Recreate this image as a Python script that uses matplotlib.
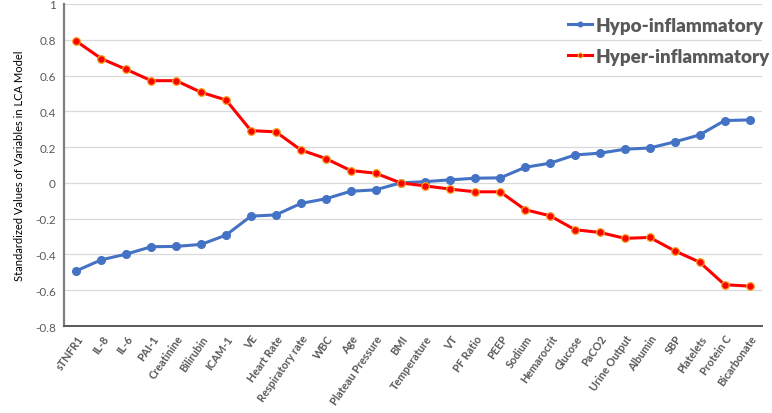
import matplotlib
matplotlib.use("Agg")
import matplotlib.pyplot as plt
import numpy as np

categories = ["sTNFR1", "IL-8", "IL-6", "PAI-1", "Creatinine", "Bilirubin", "ICAM-1", "VE",
              "Heart Rate", "Respiratory rate", "WBC", "Age", "Plateau Pressure", "BMI",
              "Temperature", "VT", "PF Ratio", "PEEP", "Sodium", "Hemarocrit", "Glucose",
              "PaCO2", "Urine Output", "Albumin", "SBP", "Platelets", "Protein C", "Bicarbonate"]
hypo = [-0.491, -0.430, -0.398, -0.357, -0.355, -0.344, -0.292, -0.186,
        -0.179, -0.115, -0.089, -0.047, -0.039, 0.000,
        0.007, 0.017, 0.026, 0.028, 0.087, 0.110, 0.156,
        0.166, 0.188, 0.195, 0.229, 0.268, 0.348, 0.352]
hyper = [0.791, 0.694, 0.634, 0.571, 0.571, 0.506, 0.463, 0.292,
         0.285, 0.184, 0.136, 0.069, 0.054, 0.000,
         -0.017, -0.035, -0.050, -0.050, -0.150, -0.184, -0.262,
         -0.277, -0.310, -0.305, -0.380, -0.443, -0.569, -0.577]
yticks = [-0.8, -0.6, -0.4, -0.2, 0, 0.2, 0.4, 0.6, 0.8, 1]
ytick_labels = ["-0.8", "-0.6", "-0.4", "-0.2", "0", "0.2", "0.4", "0.6", "0.8", "1"]

plt.rcParams['font.family'] = ['Lato', 'DejaVu Sans']

fig = plt.figure(figsize=(7.72, 4.14), dpi=100)
ax = fig.add_axes([0.0829, 0.2101, 0.9041, 0.778])

x = np.arange(len(categories))
ax.plot(x, hypo, color="#4472C4", lw=2.2, marker="o", ms=5.5, mfc="#4472C4", mec="#4472C4",
        label="Hypo-inflammatory", zorder=3)
ax.plot(x, hyper, color="#FF0000", lw=2.2, marker="o", ms=5.5, mfc="#FF0000", mec="#F5A623",
        mew=0.9, label="Hyper-inflammatory", zorder=3)

ax.set_xlim(-0.5, len(categories) - 0.5)
ax.set_ylim(-0.8, 1.0)
ax.set_yticks(yticks)
ax.set_yticklabels(ytick_labels, fontsize=8.5, color="#595959")
ax.set_xticks(x)
ax.set_xticklabels(categories, rotation=55, ha="right", rotation_mode="anchor",
                   fontsize=7.8, color="#595959", fontweight="bold")
ax.tick_params(axis="both", length=0, pad=6)
ax.tick_params(axis="x", pad=5)

ax.grid(axis="y", color="#D9D9D9", lw=0.9)
ax.set_axisbelow(True)
for s in ["top", "right"]:
    ax.spines[s].set_visible(False)
ax.spines["left"].set_color("#7F7F7F")
ax.spines["left"].set_linewidth(1.6)
ax.spines["bottom"].set_color("#595959")
ax.spines["bottom"].set_linewidth(1.4)

ax.set_ylabel("Standardized Values of Variables in LCA Model", fontsize=8, color="black", labelpad=7)

leg = ax.legend(loc="upper right", bbox_to_anchor=(1.035, 1.012), frameon=False,
                prop={"size": 13.5, "weight": "heavy"}, labelcolor="#595959",
                handlelength=1.3, handletextpad=0.15, labelspacing=0.75, markerscale=0.6)

fig.savefig("out.png", dpi=100)
